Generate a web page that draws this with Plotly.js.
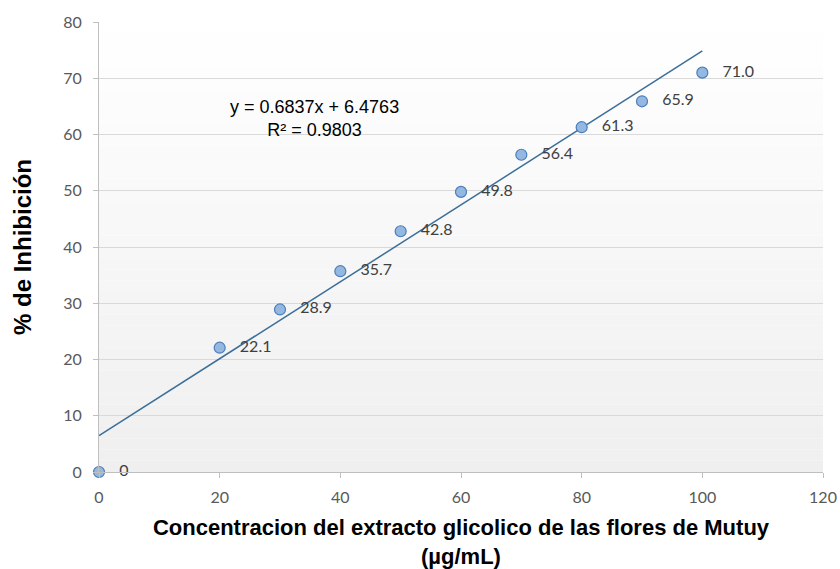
<!DOCTYPE html>
<html>
<head>
<meta charset="utf-8">
<script src="https://cdn.plot.ly/plotly-3.0.1.min.js"></script>
<style>html,body{margin:0;padding:0;background:#fff}#chart{width:840px;height:569px}</style>
</head>
<body>
<div id="chart"></div>
<script>
const concentration = [0, 20, 30, 40, 50, 60, 70, 80, 90, 100];
const inhibition = [0, 22.1, 28.9, 35.7, 42.8, 49.8, 56.4, 61.3, 65.9, 71.0];
const labels = ["0", "22.1", "28.9", "35.7", "42.8", "49.8", "56.4", "61.3", "65.9", "71.0"];
const slope = 0.6837;
const intercept = 6.4763;
const trendX = [0, 100];
const trendY = trendX.map(x => slope * x + intercept);
const xTicks = [0, 20, 40, 60, 80, 100, 120];
const yTicks = [0, 10, 20, 30, 40, 50, 60, 70, 80];

// background gradient strips (paper coords of plot area)
const shapes = [];
const N = 40;
for (let i = 0; i < N; i++) {
  const t = (i + 0.5) / N; // 0 bottom, 1 top
  const v = Math.round(239 + (255 - 239) * t);
  const c = `rgb(${v},${v},${v})`;
  shapes.push({type: 'rect', xref: 'x domain', yref: 'y domain', x0: 0, x1: 1, y0: i / N, y1: (i + 1) / N,
    fillcolor: c, line: {width: 0}, layer: 'below'});
}

const traces = [
  {x: trendX, y: trendY, mode: 'lines', line: {color: '#3b6e98', width: 1.5}, hoverinfo: 'skip', showlegend: false},
  {x: concentration, y: inhibition, mode: 'markers+text', text: labels.map(s => '   ' + s), textposition: 'middle right',
   textfont: {family: 'Lato, sans-serif', size: 16, color: '#404040'},
   marker: {size: 11, color: '#95b8e0', line: {color: '#4a7ebb', width: 1.2}}, cliponaxis: false, showlegend: false}
];

const layout = {
  width: 840, height: 569,
  margin: {l: 99, r: 17, t: 22, b: 97},
  paper_bgcolor: '#ffffff', plot_bgcolor: 'rgba(0,0,0,0)',
  showlegend: false,
  shapes: shapes,
  xaxis: {range: [0, 120], tickvals: xTicks, ticktext: xTicks.map(String), showgrid: false, zeroline: false,
    showline: true, linecolor: '#bfbfbf', linewidth: 1, ticks: 'outside', ticklen: 5, tickcolor: '#bfbfbf',
    ticklabelstandoff: 6,
    tickfont: {family: 'Lato, sans-serif', size: 16, color: '#595959'},
    title: {text: '<b>Concentracion del extracto glicolico de las flores de Mutuy<br>(µg/mL)</b>', standoff: 14,
      font: {family: 'Liberation Sans, Arial, sans-serif', size: 22, color: '#000'}}},
  yaxis: {range: [0, 80], tickvals: yTicks, ticktext: yTicks.map(String), showgrid: true, gridcolor: '#d9d9d9', zeroline: false,
    showline: true, linecolor: '#bfbfbf', linewidth: 1, ticks: 'outside', ticklen: 5, tickcolor: '#bfbfbf',
    ticklabelstandoff: 8,
    tickfont: {family: 'Lato, sans-serif', size: 16, color: '#595959'},
    title: {text: '<b>% de Inhibición</b>', standoff: 24,
      font: {family: 'Liberation Sans, Arial, sans-serif', size: 24, color: '#000'}}},
  annotations: [
    {x: 35.8, y: 62.9, xref: 'x', yref: 'y', showarrow: false, align: 'center',
     text: 'y = 0.6837x + 6.4763<br>R² = 0.9803',
     font: {family: 'Liberation Sans, Arial, sans-serif', size: 18, color: '#000'}}
  ]
};

Plotly.newPlot('chart', traces, layout, {displayModeBar: false, staticPlot: true});
</script>
</body>
</html>
